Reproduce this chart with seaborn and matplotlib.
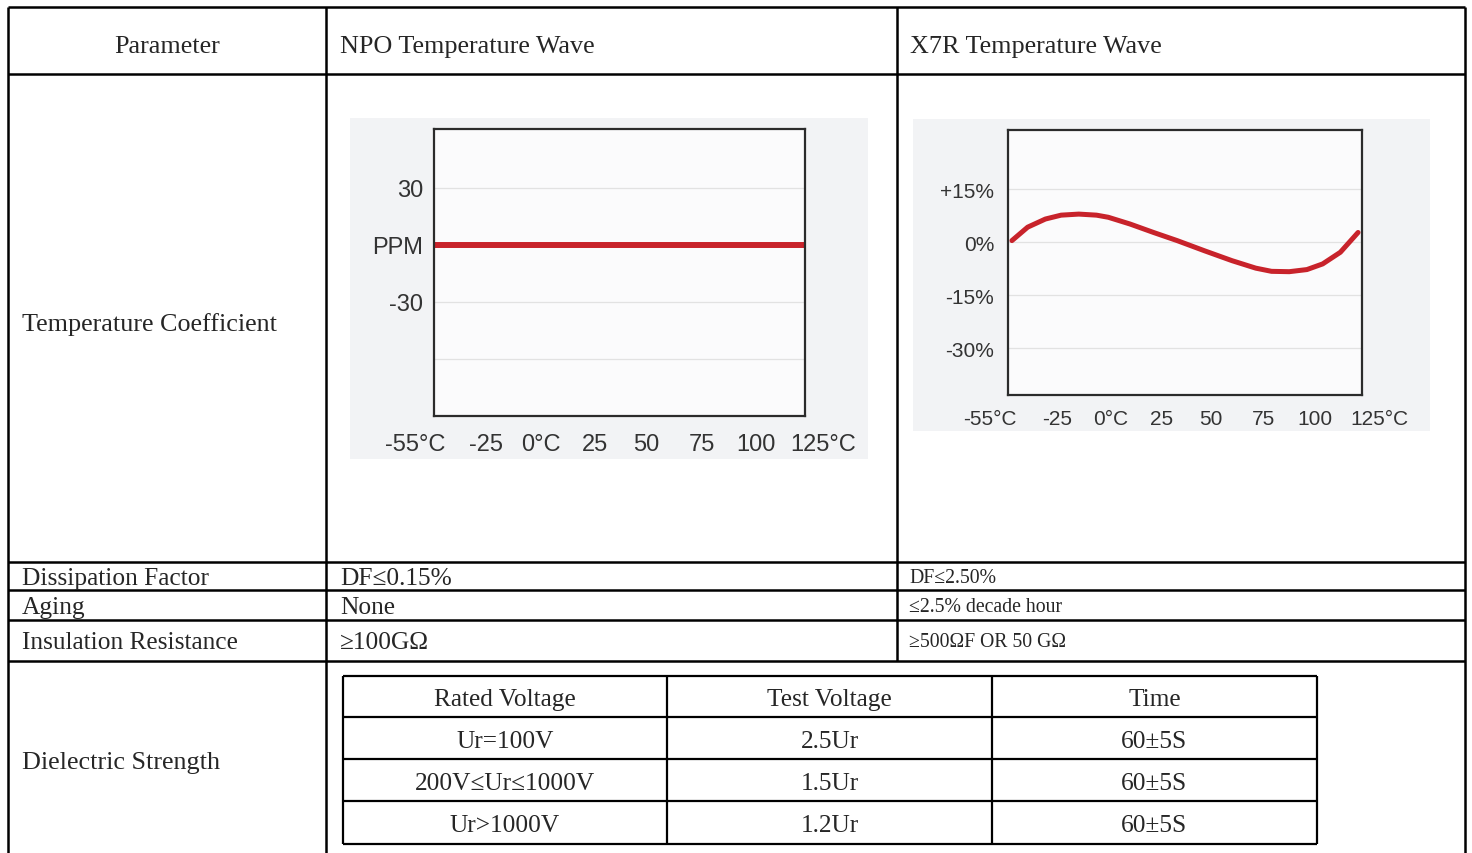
import matplotlib
matplotlib.use("Agg")
import matplotlib.pyplot as plt
import seaborn as sns
import pandas as pd

# chart data
temps_npo = [-55, -25, 0, 25, 50, 75, 100, 125]
ppm_npo = [0, 0, 0, 0, 0, 0, 0, 0]

temps_x7r = [-53, -45, -36, -28, -19, -10, -4, 7, 19, 31, 45, 59, 71, 79, 88, 97, 105, 114, 123]
cap_x7r = [0.4, 4.2, 6.5, 7.6, 7.9, 7.6, 7.0, 5.1, 2.7, 0.4, -2.5, -5.3, -7.4, -8.3, -8.4, -7.8, -6.2, -2.9, 2.7]

temp_labels = ['-55°C', '-25', '0°C', '25', '50', '75', '100', '125°C']
temp_label_pos = [-64, -30, -3, 23, 48, 75, 101, 134]
npo_yticks = [30, 0, -30, -60]
npo_ylabels = ['30', 'PPM', '-30', '']
x7r_yticks = [15, 0, -15, -30]
x7r_ylabels = ['+15%', '0%', '-15%', '-30%']

# table text
headers = ['Parameter', 'NPO Temperature Wave', 'X7R Temperature Wave']
param_rows = ['Dissipation Factor', 'Aging', 'Insulation Resistance']
npo_vals = ['DF≤0.15%', 'None', '≥100GΩ']
x7r_vals = ['DF≤2.50%', '≤2.5% decade hour', '≥500ΩF OR 50 GΩ']
ds_header = ['Rated Voltage', 'Test Voltage', 'Time']
ds_rated = ['Ur=100V', '200V≤Ur≤1000V', 'Ur>1000V']
ds_test = ['2.5Ur', '1.5Ur', '1.2Ur']
ds_time = ['60±5S', '60±5S', '60±5S']

sns.set_style("white")
serif = ['Liberation Serif', 'DejaVu Serif', 'Noto Sans CJK SC']
sans = ['Liberation Sans', 'DejaVu Sans']
plt.rcParams['font.family'] = serif

W, H = 1472, 854
fig = plt.figure(figsize=(14.72, 8.54), dpi=100)
fig.patch.set_facecolor('white')

# background layer in pixel units for the table grid
bg = fig.add_axes([0, 0, 1, 1])
bg.set_xlim(0, W)
bg.set_ylim(H, 0)
bg.axis('off')

lw = 1.8
bg.vlines([8, 1465], 8, H, color='black', lw=lw)
bg.vlines(326, 8, H, color='black', lw=lw)
bg.vlines(897, 8, 662, color='black', lw=lw)
bg.hlines([8, 75, 563, 591, 621, 662], 8, 1465, color='black', lw=lw)

# embedded picture backgrounds
bg.add_patch(plt.Rectangle((350, 119), 518, 341, color='#f2f3f5', lw=0))
bg.add_patch(plt.Rectangle((913, 120), 517, 312, color='#f2f3f5', lw=0))

fs = 18.8
dy = 3
bg.text(167, 44 + dy, headers[0], ha='center', va='center', fontsize=fs)
bg.text(340, 44 + dy, headers[1], ha='left', va='center', fontsize=fs)
bg.text(910, 44 + dy, headers[2], ha='left', va='center', fontsize=fs)
bg.text(22, 322 + dy, 'Temperature Coefficient', ha='left', va='center', fontsize=fs)

row_y = [577, 606, 641]
for name, nv, xv, y in zip(param_rows, npo_vals, x7r_vals, row_y):
    bg.text(22, y + 2, name, ha='left', va='center', fontsize=18.3)
    bg.text(340, y + 2, nv, ha='left', va='center', fontsize=18.3)
    bg.text(909, y + 2, xv, ha='left', va='center', fontsize=14.2)

bg.text(22, 760 + dy, 'Dielectric Strength', ha='left', va='center', fontsize=fs)

# inner dielectric strength table
col_x = [343, 667, 992, 1317]
row_lines = [677, 718, 760, 802, 845]
bg.vlines(col_x, 677, 845, color='black', lw=1.6)
bg.hlines(row_lines, 343, 1317, color='black', lw=1.6)
centers = [(col_x[i] + col_x[i + 1]) / 2 for i in range(3)]
for cx, t in zip(centers, ds_header):
    bg.text(cx, 697 + dy, t, ha='center', va='center', fontsize=18.3)
for i, (a, b, c) in enumerate(zip(ds_rated, ds_test, ds_time)):
    y = (row_lines[i + 1] + row_lines[i + 2]) / 2 + dy
    bg.text(centers[0], y, a, ha='center', va='center', fontsize=18.3)
    bg.text(centers[1], y, b, ha='center', va='center', fontsize=18.3)
    bg.text(centers[2], y, c, ha='center', va='center', fontsize=18.3)


def fig_rect(x0, y0, x1, y1):
    return [x0 / W, 1 - y1 / H, (x1 - x0) / W, (y1 - y0) / H]


def style_chart(ax, yticks, ylabels, fsize, ylab_pad, xlab_y):
    ax.set_facecolor('#fbfbfc')
    for s in ax.spines.values():
        s.set_color('#2b2b2b')
        s.set_linewidth(1.6)
    ax.set_yticks(yticks)
    ax.set_yticklabels(ylabels, family=sans, fontsize=fsize, color='#333333')
    ax.tick_params(axis='y', length=0, pad=ylab_pad)
    ax.set_xticks([])
    ax.grid(axis='y', color='#e2e2e2', lw=0.9)
    ax.set_xlabel('')
    ax.set_ylabel('')
    for pos, lab in zip(temp_label_pos, temp_labels):
        ax.text(pos, xlab_y, lab, transform=ax.get_xaxis_transform(),
                ha='center', va='center', family=sans, fontsize=fsize,
                color='#333333', clip_on=False)


# NPO chart
ax1 = fig.add_axes(fig_rect(434, 130, 805, 417))
npo = pd.DataFrame({'temp': temps_npo, 'ppm': ppm_npo})
sns.lineplot(data=npo, x='temp', y='ppm', ax=ax1, color='#c8232b', lw=4.3)
ax1.set_xlim(-55, 125)
ax1.set_ylim(-90, 61)
style_chart(ax1, npo_yticks, npo_ylabels, 17, 8, -0.098)

# X7R chart
ax2 = fig.add_axes(fig_rect(1008, 131, 1362, 396))
x7r = pd.DataFrame({'temp': temps_x7r, 'cap': cap_x7r})
sns.lineplot(data=x7r, x='temp', y='cap', ax=ax2, color='#c8232b', lw=3.6,
             solid_joinstyle='round', solid_capstyle='round')
ax2.set_xlim(-55, 125)
ax2.set_ylim(-43.3, 31.7)
style_chart(ax2, x7r_yticks, x7r_ylabels, 15, 10, -0.09)

fig.savefig('out.png', dpi=100, facecolor='white')
